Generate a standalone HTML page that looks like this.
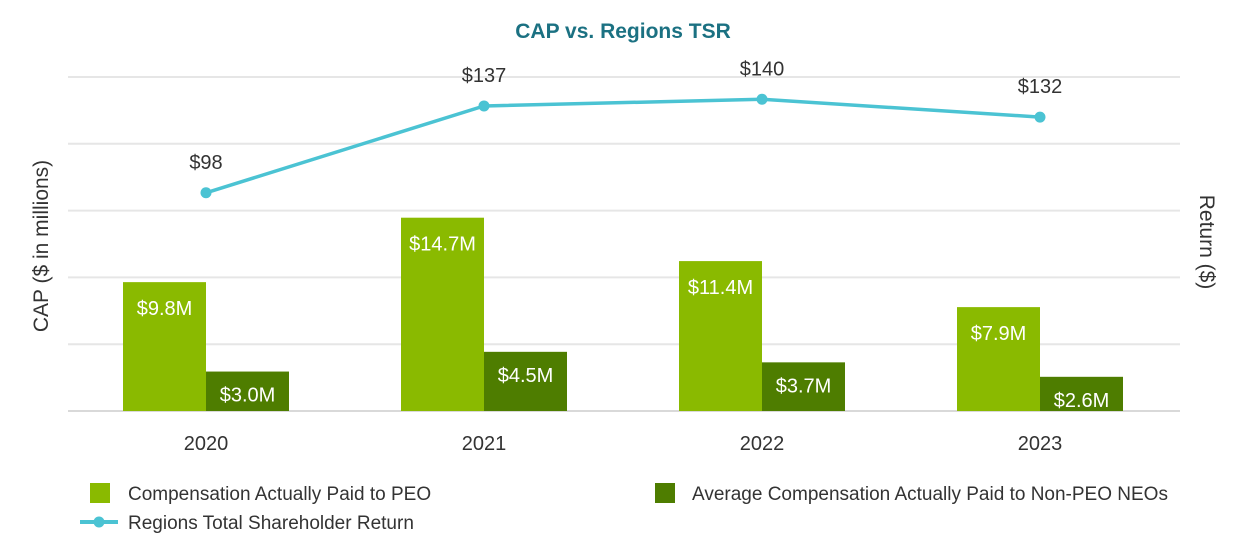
<!DOCTYPE html>
<html><head><meta charset="utf-8"><style>
body{margin:0;background:#fff;}
svg text{font-family:"Liberation Sans",sans-serif;}
</style></head><body>
<svg id="chart" width="1248" height="536" viewBox="0 0 1248 536">
<text x="623" y="38" text-anchor="middle" font-size="21" font-weight="bold" fill="#1b7182">CAP vs. Regions TSR</text>
<g id="grid"></g><g id="bars"></g><g id="line"></g><g id="labels"></g>
<text transform="translate(48,246) rotate(-90)" text-anchor="middle" font-size="21" fill="#333">CAP ($ in millions)</text>
<text transform="translate(1200,242) rotate(90)" text-anchor="middle" font-size="21" fill="#333">Return ($)</text>
<g>
<rect x="90" y="483" width="20" height="20" fill="#8aba00"/>
<text x="128" y="500" font-size="19" fill="#333">Compensation Actually Paid to PEO</text>
<rect x="655" y="483" width="20" height="20" fill="#4e7d00"/>
<text x="692" y="500" font-size="19" fill="#333">Average Compensation Actually Paid to Non-PEO NEOs</text>
<line x1="80" y1="522" x2="118" y2="522" stroke="#4bc3d3" stroke-width="4"/>
<circle cx="99" cy="522" r="5.5" fill="#4bc3d3"/>
<text x="128" y="529" font-size="19" fill="#333">Regions Total Shareholder Return</text>
</g>
</svg>
<script>
const years=["2020","2021","2022","2023"];
const peo=[9.8,14.7,11.4,7.9];
const neo=[3.0,4.5,3.7,2.6];
const tsr=[98,137,140,132];
const ns="http://www.w3.org/2000/svg";
const plotBase=411, plotTop=77;
const yL=v=>plotBase-v*(plotBase-plotTop)/25.4;
const yR=v=>plotBase-v*(plotBase-plotTop)/150;
const xC=i=>206+i*278;
function mk(t,a,p){const e=document.createElementNS(ns,t);for(const k in a)e.setAttribute(k,a[k]);document.getElementById(p).appendChild(e);return e;}
for(let g=0;g<=5;g++){const y=plotBase-g*(plotBase-plotTop)/5;
const l=mk('line',{x1:68,x2:1180,y1:y,y2:y,stroke:g?'#e6e6e6':'#d9d9d9','stroke-width':2},'grid');

}
years.forEach((yr,i)=>{
const c=xC(i);
const b1=mk('rect',{x:c-83,y:yL(peo[i]),width:83,height:plotBase-yL(peo[i]),fill:'#8aba00'},'bars');


const b2=mk('rect',{x:c,y:yL(neo[i]),width:83,height:plotBase-yL(neo[i]),fill:'#4e7d00'},'bars');


const t1=mk('text',{x:c-41.5,y:yL(peo[i])+33,'text-anchor':'middle','font-size':20,fill:'#fff'},'labels');
t1.textContent='$'+peo[i].toFixed(1)+'M';


const t2=mk('text',{x:c+41.5,y:yL(neo[i])+30,'text-anchor':'middle','font-size':20,fill:'#fff'},'labels');
t2.textContent='$'+neo[i].toFixed(1)+'M';


const xl=mk('text',{x:c,y:450,'text-anchor':'middle','font-size':20,fill:'#333'},'labels');
xl.textContent=yr;


});
const pl=mk('polyline',{points:tsr.map((v,i)=>xC(i)+','+yR(v)).join(' '),fill:'none',stroke:'#4bc3d3','stroke-width':3.5},'line');


tsr.forEach((v,i)=>{
const p=mk('circle',{cx:xC(i),cy:yR(v),r:5.5,fill:'#4bc3d3'},'line');


const t=mk('text',{x:xC(i),y:yR(v)-24,'text-anchor':'middle','font-size':20,fill:'#333'},'labels');
t.textContent='$'+v;


});
</script>
</body></html>
